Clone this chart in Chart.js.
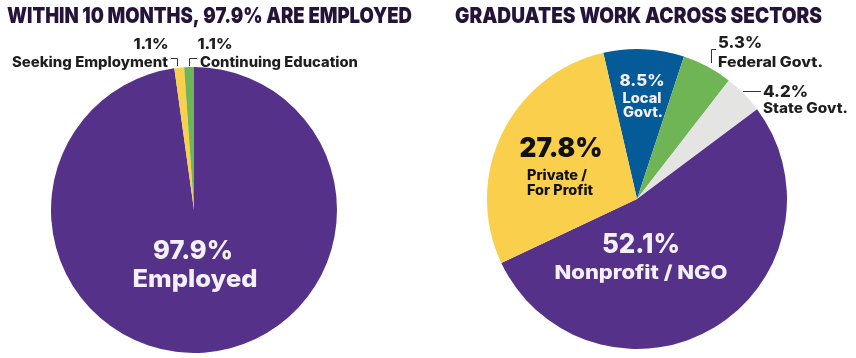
<!DOCTYPE html>
<html>
<head>
<meta charset="utf-8">
<script src="https://cdn.jsdelivr.net/npm/chart.js@4.4.0/dist/chart.umd.min.js"></script>
<style>
  html, body { margin: 0; padding: 0; background: #fff; }
  #wrap { position: relative; width: 856px; height: 358px; overflow: hidden; }
  .box { position: absolute; top: 0; height: 358px; }
</style>
</head>
<body>
<div id="wrap">
  <div class="box" style="left:0;width:430px"><canvas id="employChart"></canvas></div>
  <div class="box" style="left:430px;width:426px"><canvas id="sectorChart"></canvas></div>
</div>
<script>
// data
var employLabels = ['Employed', 'Seeking Employment', 'Continuing Education'];
var employValues = [97.9, 1.1, 1.1];
var employColors = ['#56318A', '#F9CF4B', '#6FB556'];

var sectorLabels = ['Local Govt.', 'Federal Govt.', 'State Govt.', 'Nonprofit / NGO', 'Private / For Profit'];
var sectorValues = [8.5, 5.3, 4.2, 52.1, 27.8];
var sectorColors = ['#055B97', '#6FB556', '#E4E5E3', '#56318A', '#F9CF4B'];

var FONT = 'Inter, "Open Sans", sans-serif';
var DARK = '#1E1E1E';
var LIGHT = '#F3F1F5';
var TITLE = '#26133A';

function pct(v) { return v.toFixed(1) + '%'; }

// text drawn at baseline y, stretched to a target width
function drawText(ctx, text, x, y, size, width, color, align, weight) {
    ctx.save();
    ctx.font = (weight || 800) + ' ' + size + 'px ' + FONT;
    ctx.fillStyle = color;
    ctx.textBaseline = 'alphabetic';
    ctx.textAlign = 'left';
    var w = ctx.measureText(text).width;
    var sx = width ? width / w : 1;
    var left = x;
    if (align === 'center') left = x - (w * sx) / 2;
    if (align === 'right') left = x - w * sx;
    ctx.translate(left, y);
    ctx.scale(sx, 1);
    ctx.fillText(text, 0, 0);
    ctx.restore();
}

function drawLine(ctx, pts) {
    ctx.save();
    ctx.strokeStyle = '#333';
    ctx.lineWidth = 1;
    ctx.beginPath();
    ctx.moveTo(pts[0][0], pts[0][1]);
    for (var i = 1; i < pts.length; i++) ctx.lineTo(pts[i][0], pts[i][1]);
    ctx.stroke();
    ctx.restore();
}

// labels for the left pie (offsets from pie centre)
var employPlugin = {
    id: 'employText',
    afterDraw: function (chart) {
        var ctx = chart.ctx;
        var arc = chart.getDatasetMeta(0).data[0];
        var cx = arc.x, cy = arc.y;
        drawText(ctx, 'WITHIN 10 MONTHS, ' + pct(employValues[0]) + ' ARE EMPLOYED', 7, 23, 22, 405, TITLE, 'left', 900);
        drawText(ctx, pct(employValues[0]), cx - 1, cy + 49, 26, 80, LIGHT, 'center');
        drawText(ctx, employLabels[0], cx + 1, cy + 77, 24, 125, LIGHT, 'center');
        drawText(ctx, pct(employValues[1]), cx - 43, cy - 161, 15, 35, DARK, 'center');
        drawText(ctx, pct(employValues[2]), cx + 21, cy - 161, 15, 35, DARK, 'center');
        drawText(ctx, employLabels[1], cx - 26, cy - 143, 14, 156, DARK, 'right');
        drawText(ctx, employLabels[2], cx + 6, cy - 143, 14, 158, DARK, 'left');
        drawLine(ctx, [[cx - 23, cy - 151.5], [cx - 16.5, cy - 151.5], [cx - 16.5, cy - 144]]);
        drawLine(ctx, [[cx - 4.5, cy - 144], [cx - 4.5, cy - 151.5], [cx + 3, cy - 151.5]]);
    }
};

// labels for the right pie
var sectorPlugin = {
    id: 'sectorText',
    afterDraw: function (chart) {
        var ctx = chart.ctx;
        var arc = chart.getDatasetMeta(0).data[0];
        var cx = arc.x, cy = arc.y;
        drawText(ctx, 'GRADUATES WORK ACROSS SECTORS', 25, 23, 22, 367, TITLE, 'left', 900);
        // Local Govt.
        drawText(ctx, pct(sectorValues[0]), cx + 5, cy - 113, 16, 45, LIGHT, 'center');
        drawText(ctx, 'Local', cx + 5, cy - 96, 14, 39, LIGHT, 'center');
        drawText(ctx, 'Govt.', cx + 6, cy - 82, 14, 40, LIGHT, 'center');
        // Private
        drawText(ctx, pct(sectorValues[4]), cx - 76, cy - 42, 27, 83, '#111', 'center', 900);
        drawText(ctx, 'Private /', cx - 110, cy - 19, 14, 60, '#111', 'left');
        drawText(ctx, 'For Profit', cx - 110, cy - 4, 14, 66, '#111', 'left');
        // Nonprofit
        drawText(ctx, pct(sectorValues[3]), cx + 4, cy + 54, 27, 78, LIGHT, 'center');
        drawText(ctx, sectorLabels[3], cx + 4, cy + 80, 19, 173, LIGHT, 'center');
        // Federal
        drawText(ctx, pct(sectorValues[1]), cx + 81, cy - 151, 16, 44, DARK, 'left');
        drawText(ctx, sectorLabels[1], cx + 81, cy - 132, 14, 105, DARK, 'left');
        drawLine(ctx, [[cx + 79, cy - 149.5], [cx + 74.5, cy - 149.5], [cx + 74.5, cy - 136]]);
        // State
        drawText(ctx, pct(sectorValues[2]), cx + 126, cy - 102, 16, 45, DARK, 'left');
        drawText(ctx, sectorLabels[2], cx + 126, cy - 86, 14, 85, DARK, 'left');
        drawLine(ctx, [[cx + 106, cy - 107.5], [cx + 124, cy - 107.5]]);
    }
};

function pieOptions(pad, rotation) {
    return {
        responsive: true,
        maintainAspectRatio: false,
        animation: false,
        rotation: rotation,
        layout: { padding: pad },
        plugins: {
            legend: { display: false },
            tooltip: { enabled: false }
        }
    };
}

new Chart(document.getElementById('employChart').getContext('2d'), {
    type: 'pie',
    data: {
        labels: employLabels,
        datasets: [{
            data: employValues,
            backgroundColor: employColors,
            borderWidth: 0
        }]
    },
    options: pieOptions({ left: 51, top: 67, right: 93, bottom: 5 }, 0),
    plugins: [employPlugin]
});

new Chart(document.getElementById('sectorChart').getContext('2d'), {
    type: 'pie',
    data: {
        labels: sectorLabels,
        datasets: [{
            data: sectorValues,
            backgroundColor: sectorColors,
            borderWidth: 0
        }]
    },
    options: pieOptions({ left: 57, top: 49, right: 69, bottom: 9 }, -13),
    plugins: [sectorPlugin]
});
</script>
</body>
</html>
